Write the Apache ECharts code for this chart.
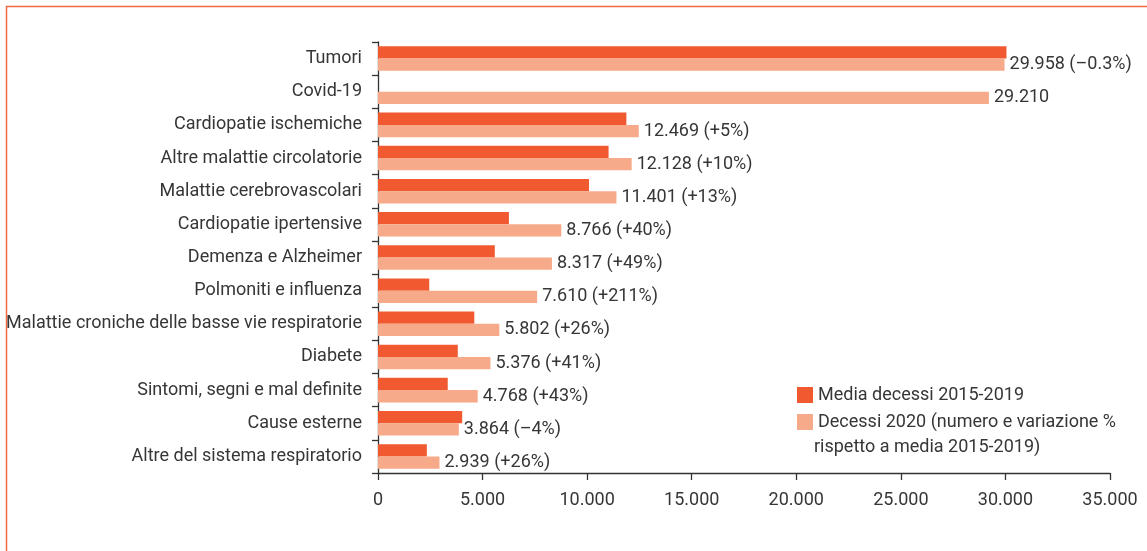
<!DOCTYPE html>
<html>
<head>
<meta charset="utf-8">
<script src="https://cdn.jsdelivr.net/npm/echarts@6/dist/echarts.min.js"></script>
<style>
  html, body { margin: 0; padding: 0; background: #fff; }
  #chart { width: 1147px; height: 551px; }
</style>
</head>
<body>
<div id="chart"></div>
<script>
// categorie (dall'alto verso il basso)
var cause = [
    "Tumori",
    "Covid-19",
    "Cardiopatie ischemiche",
    "Altre malattie circolatorie",
    "Malattie cerebrovascolari",
    "Cardiopatie ipertensive",
    "Demenza e Alzheimer",
    "Polmoniti e influenza",
    "Malattie croniche delle basse vie respiratorie",
    "Diabete",
    "Sintomi, segni e mal definite",
    "Cause esterne",
    "Altre del sistema respiratorio"
];

// media decessi 2015-2019 (stimati dal grafico)
var media = [30050, null, 11875, 11025, 10090, 6260, 5585, 2450, 4605, 3815, 3335, 4025, 2335];

// decessi 2020
var decessi2020 = [29958, 29210, 12469, 12128, 11401, 8766, 8317, 7610, 5802, 5376, 4768, 3864, 2939];

// etichette delle barre 2020
var etichette = [
    "29.958 (\u20130.3%)",
    "29.210",
    "12.469 (+5%)",
    "12.128 (+10%)",
    "11.401 (+13%)",
    "8.766 (+40%)",
    "8.317 (+49%)",
    "7.610 (+211%)",
    "5.802 (+26%)",
    "5.376 (+41%)",
    "4.768 (+43%)",
    "3.864 (\u20134%)",
    "2.939 (+26%)"
];

// etichette asse x
var xTicks = ["0", "5.000", "10.000", "15.000", "20.000", "25.000", "30.000", "35.000"];

var nomeMedia = "Media decessi 2015-2019";
var nome2020 = "Decessi 2020 (numero e variazione %";
var nome2020riga2 = "rispetto a media 2015-2019)";

var FONT = "Roboto, 'Liberation Sans', sans-serif";
var FS = 18;
var TXT = "#363636";

var chart = echarts.init(document.getElementById("chart"));

var option = {
    animation: false,
    textStyle: { fontFamily: FONT },
    grid: { left: 378, right: 37, top: 42, bottom: 78, outerBoundsMode: "none", containLabel: false },
    legend: {
        orient: "vertical",
        left: 792,
        top: 379,
        itemWidth: 16,
        itemHeight: 16,
        itemGap: 5,
        icon: "rect",
        textStyle: { fontFamily: FONT, fontSize: FS, color: TXT, lineHeight: 22 },
        data: [nomeMedia, nome2020]
    },
    xAxis: {
        type: "value",
        min: 0,
        max: 35000,
        interval: 5000,
        splitLine: { show: false },
        axisLine: { show: true, lineStyle: { color: "#333", width: 1.3 } },
        axisTick: { show: true, length: 7, lineStyle: { color: "#333", width: 1.3 } },
        axisLabel: {
            margin: 18,
            fontSize: FS,
            color: TXT,
            fontFamily: FONT,
            formatter: function (v) { return xTicks[Math.round(v / 5000)]; }
        }
    },
    yAxis: {
        type: "category",
        data: cause,
        inverse: true,
        axisLine: { show: true, lineStyle: { color: "#333", width: 1.3 } },
        axisTick: { show: true, length: 6, lineStyle: { color: "#333", width: 1.3 } },
        axisLabel: { margin: 16, fontSize: FS, color: TXT, fontFamily: FONT, padding: [5, 0, 0, 0] }
    },
    series: [
        {
            name: nomeMedia,
            type: "bar",
            data: media,
            barGap: "0%",
            barCategoryGap: "26%",
            itemStyle: { color: "#F15A30" }
        },
        {
            name: nome2020,
            type: "bar",
            data: decessi2020,
            barGap: "0%",
            barCategoryGap: "26%",
            itemStyle: { color: "#F7AA89" },
            label: {
                show: true,
                position: "right",
                distance: 5,
                fontSize: FS,
                color: TXT,
                fontFamily: FONT,
                formatter: function (p) { return etichette[p.dataIndex]; }
            }
        }
    ],
    graphic: [
        {
            // cornice arancione (solo lati superiore e sinistro visibili)
            type: "rect",
            shape: { x: 6.5, y: 6.5, width: 1400, height: 800 },
            style: { fill: "none", stroke: "#F26A3F", lineWidth: 1.5 },
            silent: true
        },
        {
            type: "text",
            left: 814,
            top: 438,
            style: { text: nome2020riga2, font: FS + "px " + FONT, fill: TXT }
        }
    ]
};

chart.setOption(option);
</script>
</body>
</html>
